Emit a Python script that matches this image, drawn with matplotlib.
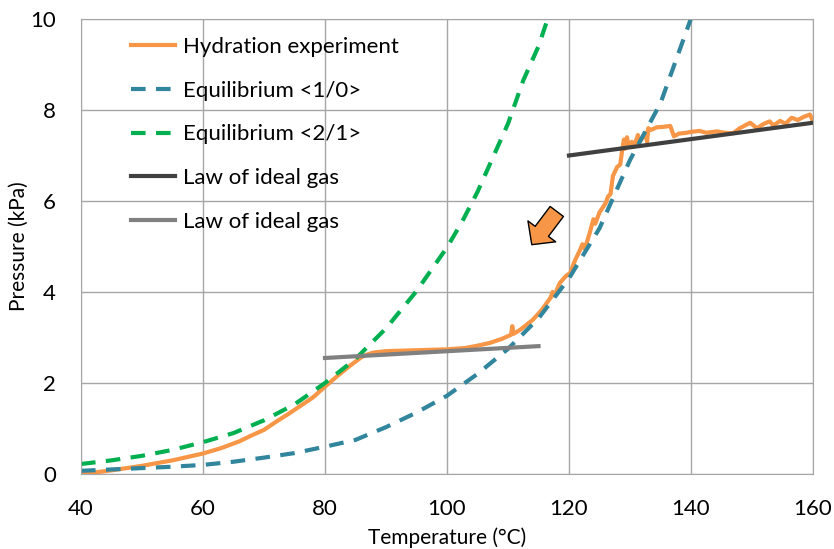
import matplotlib.pyplot as plt

plt.rcParams['font.family'] = ['Lato', 'DejaVu Sans']

# Hydration experiment (measured)
temp_exp = [40, 42, 45, 50, 55, 60, 63, 66, 68, 70, 72, 74, 76, 78, 80, 82, 84, 86, 87, 88,
            90, 95, 100, 103, 105, 107, 109, 110.5, 110.7, 110.9, 112, 114, 115.5, 117, 117.3,
            117.6, 118.5, 119.5, 120.2, 121, 121.8, 122.2, 122.6, 123.4, 124, 124.3, 125,
            125.6, 126, 126.4, 126.8, 127.2, 127.9, 128.4, 128.7, 129, 129.2, 129.5, 129.8,
            130.3, 130.8, 131.3, 131.6, 132.1, 132.5, 132.8, 133, 133.4, 134.4, 135.5, 136.6,
            137, 137.2, 138, 139.3, 140, 141.4, 142.5, 144.2, 145.5, 146.9, 148, 149.7, 150.8,
            152, 152.9, 153.5, 154.6, 155.5, 156.5, 157.5, 158.5, 159.5, 160]
p_exp = [0.0, 0.03, 0.08, 0.18, 0.3, 0.45, 0.57, 0.72, 0.85, 0.97, 1.15, 1.32, 1.5, 1.68, 1.92,
         2.15, 2.37, 2.57, 2.63, 2.67, 2.7, 2.72, 2.74, 2.77, 2.82, 2.88, 2.97, 3.06, 3.25, 3.08,
         3.17, 3.38, 3.6, 3.88, 4.0, 3.92, 4.2, 4.35, 4.42, 4.7, 4.92, 5.05, 4.95, 5.3, 5.6, 5.5,
         5.75, 5.87, 5.95, 6.1, 6.15, 6.55, 6.75, 6.8, 7.1, 7.35, 7.15, 7.4, 7.2, 7.3, 7.25, 7.45,
         7.3, 7.4, 7.5, 7.3, 7.6, 7.56, 7.62, 7.63, 7.65, 7.5, 7.42, 7.48, 7.5, 7.52, 7.54, 7.5,
         7.53, 7.5, 7.49, 7.6, 7.72, 7.6, 7.7, 7.75, 7.66, 7.76, 7.7, 7.83, 7.78, 7.85, 7.9, 7.75]

# Equilibrium <1/0>
temp_eq10 = [40, 45, 50, 55, 60, 65, 70, 75, 80, 85, 90, 95, 100, 105, 110, 115, 120, 125, 130, 135, 140.5]
p_eq10 = [0.07, 0.1, 0.13, 0.16, 0.2, 0.27, 0.36, 0.46, 0.6, 0.75, 1.03, 1.35, 1.72, 2.2, 2.75, 3.42,
          4.3, 5.4, 6.9, 8.15, 10.2]

# Equilibrium <2/1>
temp_eq21 = [40, 45, 50, 55, 60, 65, 70, 75, 80, 85, 90, 95, 100, 102.5, 105, 107.5, 110, 112.5, 115, 117]
p_eq21 = [0.22, 0.3, 0.4, 0.53, 0.7, 0.9, 1.18, 1.53, 2.0, 2.53, 3.2, 4.02, 4.98, 5.55, 6.2, 6.95,
          7.7, 8.65, 9.4, 10.2]

# Law of ideal gas (two segments)
temp_gas1 = [120, 160]
p_gas1 = [7.0, 7.72]
temp_gas2 = [80, 115]
p_gas2 = [2.55, 2.81]

fig = plt.figure(figsize=(8.34, 5.49), dpi=100)
ax = fig.add_axes([81 / 834, 75 / 549, 732 / 834, 455 / 549])

ax.plot(temp_exp, p_exp, color='#F79646', lw=3, label='Hydration experiment')
ax.plot(temp_eq10, p_eq10, color='#31859C', lw=3, ls=(0, (3.5, 2.5)), label='Equilibrium <1/0>')
ax.plot(temp_eq21, p_eq21, color='#00B050', lw=3, ls=(0, (3.5, 2.5)), label='Equilibrium <2/1>')
ax.plot(temp_gas1, p_gas1, color='#404040', lw=3, label='Law of ideal gas')
ax.plot(temp_gas2, p_gas2, color='#808080', lw=3, label='Law of ideal gas')

# arrow pointing down along the curve
ax.annotate('', xy=(113.9, 5.04), xytext=(118.0, 5.77),
            arrowprops=dict(arrowstyle='simple,head_length=0.6,head_width=1.25,tail_width=0.6',
                            mutation_scale=20, fc='#F79646', ec='black', lw=1, shrinkA=0, shrinkB=0))

ax.set_xlim(40, 160)
ax.set_ylim(0, 10)
ax.set_xticks(range(40, 161, 20))
ax.set_yticks(range(0, 11, 2))
ax.grid(True, color='#A6A6A6', lw=1)
ax.set_axisbelow(True)
for s in ax.spines.values():
    s.set_color('#A6A6A6')
ax.tick_params(length=0, labelsize=16, colors='black')
ax.tick_params(axis='y', pad=18)
ax.tick_params(axis='x', pad=18)

ax.set_xlabel('Temperature (°C)', fontsize=15, labelpad=6)
ax.set_ylabel('Pressure (kPa)', fontsize=15, labelpad=1)

leg = ax.legend(loc='upper left', bbox_to_anchor=(0.041, 1.005), frameon=False, fontsize=16,
                handlelength=2.0, handletextpad=0.36, labelspacing=1.07)

fig.savefig('out.png', dpi=100)
